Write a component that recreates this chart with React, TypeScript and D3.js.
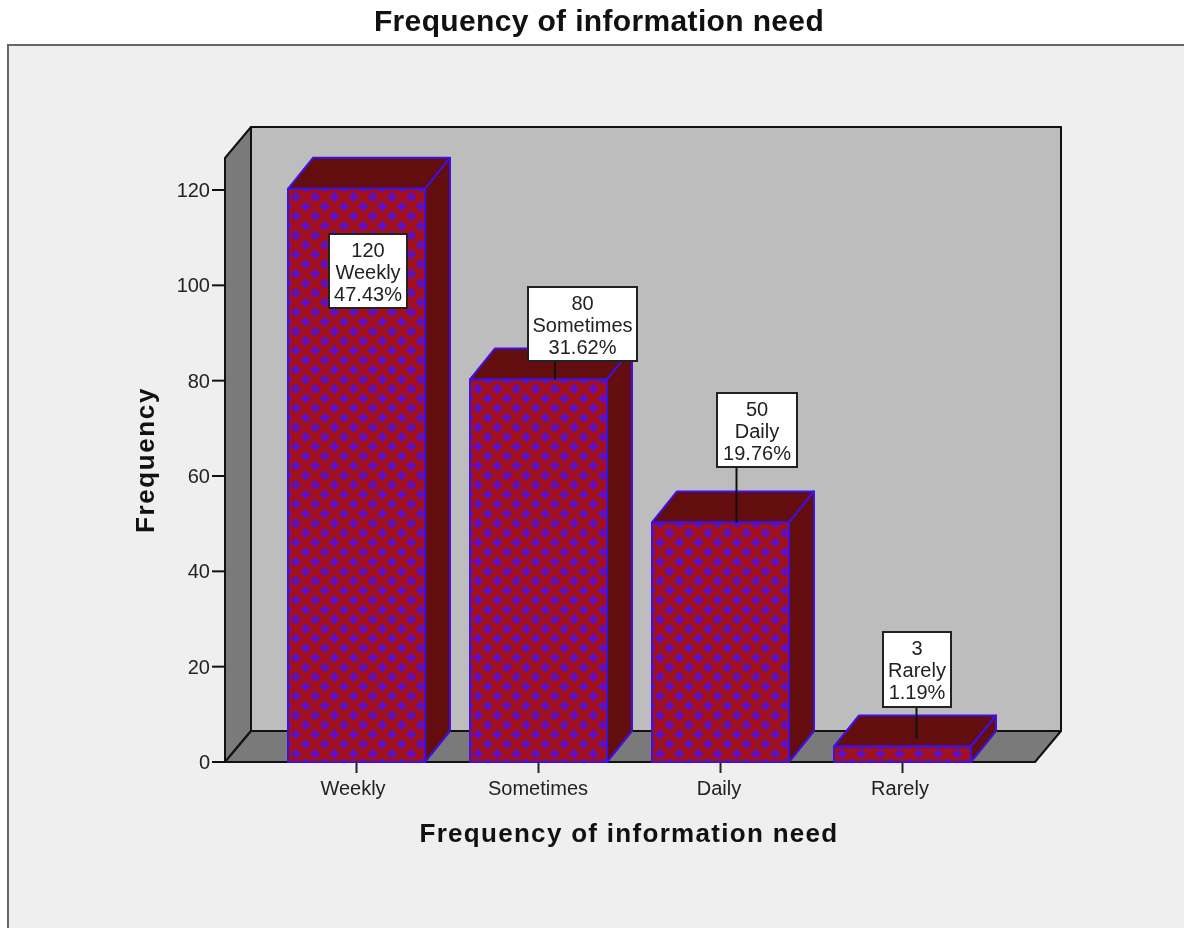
import React from "react";
import * as d3 from "d3";

const categories = ["Weekly", "Sometimes", "Daily", "Rarely"];
const counts = [120, 80, 50, 3];
const percents = ["47.43%", "31.62%", "19.76%", "1.19%"];
const yTicks = [0, 20, 40, 60, 80, 100, 120];
const calloutBoxes = [
  { x: 329, y: 234, w: 78, h: 74, leader: null as number | null },
  { x: 528, y: 287, w: 109, h: 74, leader: 555 },
  { x: 717, y: 393, w: 80, h: 74, leader: 736.5 },
  { x: 883, y: 632, w: 68, h: 75, leader: 916.5 },
];
const labelX = [353, 538, 719, 900];

const W = 1184, H = 928;
const FONT = "'Liberation Sans', Arial, sans-serif";
const y = d3.scaleLinear().domain([0, 120]).range([762, 190]);
const x = d3.scalePoint<string>().domain(categories).range([356.5, 902.5]);
const BAR_W = 137;
const DX = 25, DY = -31;
const wall = { left: 225, right: 1035, dx: 26, dy: -31, bottom: y(0), top: 158 };

const pts = (a: number[][]) => a.map((p) => p.join(",")).join(" ");
const TILE = 19.2;
const crossCenters = [[8, 9], [17.6, 18.6], [-1.6, 18.6], [17.6, -0.6], [-1.6, -0.6]];
const crossPath = (cx: number, cy: number) =>
  `M${cx - 1.7},${cy - 4.8}h3.4v3.1h3.1v3.4h-3.1v3.1h-3.4v-3.1h-3.1v-3.4h3.1z`;

export default function App() {
  const w = wall;
  const EDGE = "#3d10e6", DARK = "#640d0f", RED = "#a31018", CROSS = "#5a10c8";
  return (
    <svg width={W} height={H} viewBox={`0 0 ${W} ${H}`}
      style={{ position: "absolute", left: 0, top: 0, display: "block", background: "#fff", filter: "blur(0.45px)" }}>
      <defs>
        {categories.map((c, i) => (
          <pattern key={c} id={`p${i}`} patternUnits="userSpaceOnUse" width={TILE} height={TILE}
            patternTransform={`translate(${x(c)! - BAR_W / 2},188)`}>
            <rect width={TILE} height={TILE} fill={RED} />
            {crossCenters.map(([a, b], k) => <path key={k} d={crossPath(a, b)} fill={CROSS} />)}
          </pattern>
        ))}
      </defs>
      <text x={599} y={31} textAnchor="middle" fontFamily={FONT} fontWeight="bold" fontSize={30} letterSpacing={0.35} fill="#111">
        Frequency of information need
      </text>
      <rect x={8} y={45} width={W + 20} height={H + 20} fill="#efefef" stroke="#666" strokeWidth={2} />

      {/* walls */}
      <g stroke="#111" strokeWidth={2} strokeLinejoin="round">
        <polygon fill="#bdbdbd" points={pts([[w.left + w.dx, w.top + w.dy], [w.right + w.dx, w.top + w.dy], [w.right + w.dx, w.bottom + w.dy], [w.left + w.dx, w.bottom + w.dy]])} />
        <polygon fill="#7a7a7a" points={pts([[w.left, w.bottom], [w.left + w.dx, w.bottom + w.dy], [w.left + w.dx, w.top + w.dy], [w.left, w.top]])} />
        <polygon fill="#7a7a7a" points={pts([[w.left, w.bottom], [w.left + w.dx, w.bottom + w.dy], [w.right + w.dx, w.bottom + w.dy], [w.right, w.bottom]])} />
      </g>

      {/* y axis */}
      {yTicks.map((t) => (
        <g key={t}>
          <line x1={212} x2={w.left} y1={y(t)} y2={y(t)} stroke="#111" strokeWidth={2} />
          <text x={210} y={y(t) + 7} textAnchor="end" fontFamily={FONT} fontSize={20} fill="#222">{t}</text>
        </g>
      ))}

      {/* bars */}
      {categories.map((c, i) => {
        const l = x(c)! - BAR_W / 2, r = l + BAR_W, t = y(counts[i]) - 1.2, b = y(0);
        return (
          <g key={c} stroke={EDGE} strokeWidth={2} strokeLinejoin="round">
            <polygon fill={DARK} points={pts([[l, t], [l + DX, t + DY], [r + DX, t + DY], [r, t]])} />
            <polygon fill={DARK} points={pts([[r, t], [r + DX, t + DY], [r + DX, b + DY], [r, b]])} />
            <rect x={l} y={t} width={BAR_W} height={b - t} fill={`url(#p${i})`} />
          </g>
        );
      })}

      {/* x axis */}
      {categories.map((c, i) => (
        <g key={c}>
          <line x1={x(c)!} x2={x(c)!} y1={763} y2={773} stroke="#222" strokeWidth={2} />
          <text x={labelX[i]} y={795} textAnchor="middle" fontFamily={FONT} fontSize={20} fill="#222">{c}</text>
        </g>
      ))}

      {/* callouts */}
      {categories.map((c, i) => {
        const box = calloutBoxes[i];
        const cx = box.x + box.w / 2;
        const lines = [String(counts[i]), c, percents[i]];
        return (
          <g key={c}>
            {box.leader !== null && (
              <line x1={box.leader} x2={box.leader} y1={box.y + box.h} y2={y(counts[i]) + (i === 3 ? -9 : -1)} stroke="#111" strokeWidth={2} />
            )}
            <rect x={box.x} y={box.y} width={box.w} height={box.h} fill="#fff" stroke="#222" strokeWidth={2} />
            {lines.map((s, k) => (
              <text key={k} x={cx} y={box.y + 22.5 + k * 22} textAnchor="middle" fontFamily={FONT} fontSize={20} fill="#222">{s}</text>
            ))}
          </g>
        );
      })}

      <text x={629} y={842} textAnchor="middle" fontFamily={FONT} fontWeight="bold" fontSize={26} letterSpacing={1.3} fill="#111">
        Frequency of information need
      </text>
      <text transform="translate(154,460) rotate(-90)" textAnchor="middle" fontFamily={FONT} fontWeight="bold" fontSize={26} letterSpacing={1.6} fill="#111">
        Frequency
      </text>
    </svg>
  );
}
